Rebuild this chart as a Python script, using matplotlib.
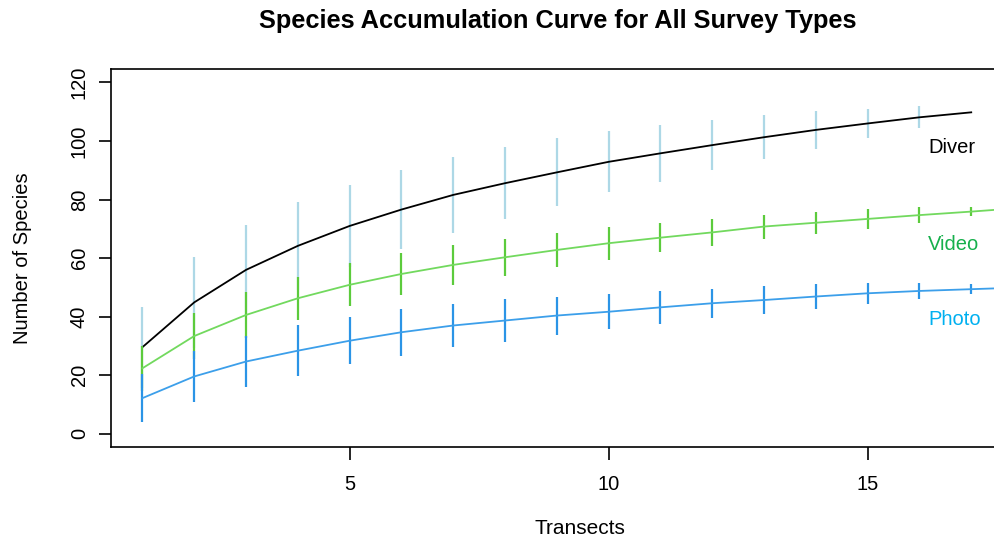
import numpy as np
import matplotlib.pyplot as plt

plt.rcParams['font.family'] = ['Liberation Sans', 'DejaVu Sans']

transects = np.arange(1, 19)

diver_mean = [29.6, 44.9, 56.0, 64.2, 71.0, 76.6, 81.6, 85.6, 89.3, 92.9,
              95.8, 98.6, 101.3, 103.8, 106.0, 108.1, 109.8]
diver_sd = [13.8, 15.6, 15.3, 15.1, 14.0, 13.6, 13.0, 12.2, 11.6, 10.4,
            9.7, 8.5, 7.6, 6.4, 5.1, 3.7, 0.0]

video_mean = [22.4, 33.4, 40.6, 46.3, 50.9, 54.6, 57.7, 60.3, 62.8, 65.1,
              67.0, 68.8, 70.8, 72.1, 73.4, 74.7, 75.9, 77.2]
video_sd = [7.6, 7.8, 7.7, 7.3, 7.4, 7.1, 6.7, 6.3, 5.9, 5.6,
            5.0, 4.7, 4.1, 3.8, 3.3, 2.8, 1.6, 0.8]

photo_mean = [12.2, 19.6, 24.7, 28.4, 31.8, 34.7, 37.0, 38.7, 40.4, 41.7,
              43.2, 44.6, 45.7, 46.9, 48.0, 48.8, 49.4, 50.0]
photo_sd = [8.1, 8.8, 8.7, 8.7, 8.1, 8.0, 7.3, 7.2, 6.5, 5.9,
            5.6, 5.0, 4.8, 4.4, 3.5, 2.6, 1.7, 0.8]

labels = ['Diver', 'Video', 'Photo']
label_y = [97.9, 64.5, 38.9]
label_colors = ['black', '#16b04c', '#00b0f0']

fig = plt.figure(figsize=(9.95, 5.42), dpi=100)
# the plot region runs past the right edge, as in the cropped original
ax = fig.add_axes([0.1116, 0.1747, 0.9426, 0.698])

series = [
    (diver_mean, diver_sd, 'black', '#add8e6'),
    (video_mean, video_sd, '#72d95e', '#5ccb3c'),
    (photo_mean, photo_sd, '#3c9fea', '#2b94e6'),
]
for mean, sd, lc, bc in series:
    x = transects[:len(mean)]
    m = np.array(mean)
    s = np.array(sd)
    ax.vlines(x, m - s, m + s, colors=bc, linewidth=1.6)
    ax.plot(x, m, color=lc, linewidth=1.3)

for lab, yy, c in zip(labels, label_y, label_colors):
    ax.text(16.17, yy, lab, color=c, fontsize=14.5, va='center', ha='left')

ax.set_xlim(0.394, 18.5)
ax.set_ylim(-4.6, 124.6)
ax.set_xticks([5, 10, 15])
ax.set_yticks(np.arange(0, 121, 20))
ax.tick_params(direction='out', length=9, width=1.2, labelsize=14.5)
ax.tick_params(axis='x', pad=11)
ax.tick_params(axis='y', pad=7)
for lab in ax.get_yticklabels():
    lab.set_rotation(90)
    lab.set_va('center')
for sp in ax.spines.values():
    sp.set_linewidth(1.2)

ax.set_xlabel('Transects', fontsize=15, labelpad=18)
ax.set_ylabel('Number of Species', fontsize=14.5, labelpad=27)
fig.text(0.561, 0.962, 'Species Accumulation Curve for All Survey Types',
         ha='center', va='center', fontsize=18.3, fontweight='bold')

fig.savefig('out.png', dpi=100)
